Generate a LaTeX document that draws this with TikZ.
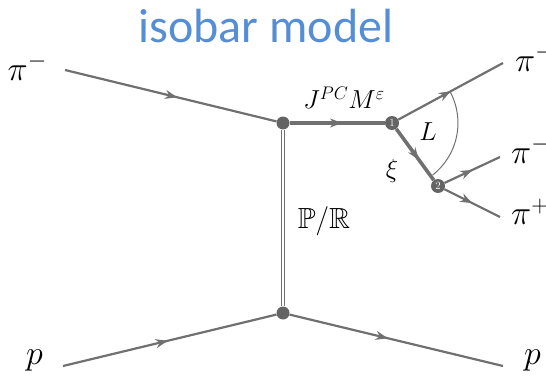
\documentclass[tikz,border=0pt]{standalone}
\usepackage{fix-cm}
\usepackage{amsmath,amssymb}
\usepackage{fontspec}
\newfontfamily\titlefont{Carlito}
\usepackage{tikz}
\usetikzlibrary{arrows.meta,positioning,decorations.markings,calc}
\definecolor{linegray}{RGB}{112,112,112}
\definecolor{dotgray}{RGB}{100,100,100}
\definecolor{titleblue}{RGB}{85,142,213}

\begin{document}
\begin{tikzpicture}[x=1pt,y=1pt,
      prop/.style={draw=linegray,line width=2.2pt,postaction={decorate},
        decoration={markings,mark=at position #1 with {\arrow[linegray]{Stealth[length=12pt,width=9pt]}}}},
      prop/.default=0.5,
      heavy/.style={prop=#1,line width=3.6pt},
      heavy/.default=0.55,
      exch/.style={draw=linegray,double=white,double distance=2pt,line width=1.3pt},
      vtx/.style={circle,fill=dotgray,inner sep=0pt,minimum size=13pt},
      numvtx/.style={vtx,minimum size=14pt,text=white,font=\fontsize{11}{11}\selectfont},
      lbl/.style={font=\fontsize{34}{40}\selectfont,inner sep=0pt},
      midlbl/.style={font=\fontsize{26}{30}\selectfont,inner sep=0pt}
    ]
    \useasboundingbox (0,0) rectangle (546,381);
    \node[font=\titlefont\fontsize{48}{52}\selectfont,text=titleblue] (title) at (266,355) {isobar model};
    % vertices
    \node[vtx] (A) at (283,258) {};
    \node[vtx] (B) at (283,68) {};
    \node[numvtx] (v1) at (392,258) {1};
    \node[numvtx] (v2) at (438,195) {2};
    % free line ends
    \coordinate (inpi) at (65,311);
    \coordinate (inp) at (63,15);
    \coordinate (outp) at (503,15);
    \coordinate (outpa) at (503,318);
    \coordinate (outpb) at (500,224);
    \coordinate (outpc) at (500,164);
    % particle labels
    \node[lbl,left=18pt of inpi,yshift=3pt] (pimin) {$\pi^-$};
    \node[lbl,left=20pt of inp,yshift=6pt] (pin) {$p$};
    \node[lbl,right=21pt of outp,yshift=6pt] (pout) {$p$};
    \node[lbl,right=12pt of outpa,yshift=5pt] (pia) {$\pi^-$};
    \node[lbl,right=11pt of outpb,yshift=7pt] (pib) {$\pi^-$};
    \node[lbl,right=11pt of outpc,yshift=5pt] (pic) {$\pi^+$};
    \node[midlbl] (jpc) at (344,283) {$J^{PC}M^{\varepsilon}$};
    \node[midlbl] (ell) at (428,249) {$L$};
    \node[midlbl] (xi) at (392,210) {$\xi$};
    \node[midlbl,right=8pt of A,yshift=-98pt] (pomr) {\scalebox{1.12}{$\mathbb{P}/\mathbb{R}$}};
    % lines
    \draw[prop=0.53] (inpi) -- (A);
    \draw[prop=0.49] (inp) -- (B);
    \draw[prop=0.46] (B) -- (outp);
    \draw[exch] (A) -- (B);
    \draw[heavy] (A) -- (v1);
    \draw[prop] (v1) -- (outpa);
    \draw[heavy=0.6] (v1) -- (v2);
    \draw[prop=0.5] (v2) -- (outpb);
    \draw[prop=0.5] (v2) -- (outpc);
    \draw[linegray,line width=1pt] (v1.center) ++(28:66) arc[start angle=28,end angle=-52,radius=66];
  \end{tikzpicture}
\end{document}
